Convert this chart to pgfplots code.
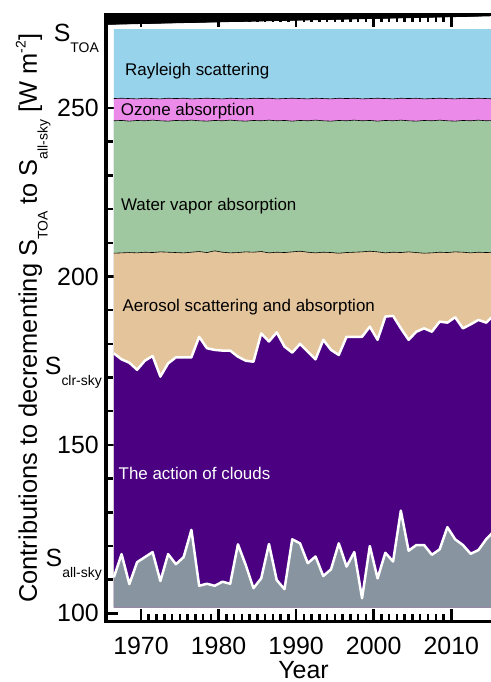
\documentclass[border=0pt]{standalone}
\usepackage{pgfplots}
\pgfplotsset{compat=1.18}
\usepackage{pgfplotstable}
\usepackage{fontspec}
\setmainfont{Liberation Sans}

\definecolor{cToa}{RGB}{152,211,236}
\definecolor{cOzone}{RGB}{236,138,234}
\definecolor{cWater}{RGB}{160,200,160}
\definecolor{cAero}{RGB}{228,196,155}
\definecolor{cCloud}{RGB}{75,0,130}
\definecolor{cAll}{RGB}{136,148,160}

\newcommand{\lo}[1]{\raisebox{-0.42em}{\fontsize{14}{14}\selectfont #1}}
\newcommand{\hi}[1]{\raisebox{0.45em}{\fontsize{14}{14}\selectfont #1}}

% S_all-sky (top of grey)
\pgfplotstableread{
x v
1966.5 110.7
1967.5 117.6
1968.5 108.7
1969.5 115.2
1970.5 116.7
1971.5 118.2
1972.5 109.6
1973.5 117.6
1974.5 114.6
1975.5 116.7
1976.5 124.8
1977.5 108.2
1978.5 108.8
1979.5 108.2
1980.5 109.4
1981.5 108.8
1982.5 120.5
1983.5 114.4
1984.5 107.5
1985.5 110.4
1986.5 120.6
1987.5 109.9
1988.5 107.2
1989.5 122.0
1990.5 120.8
1991.5 114.9
1992.5 116.9
1993.5 111.1
1994.5 113.1
1995.5 120.8
1996.5 113.9
1997.5 118.2
1998.5 104.5
1999.5 120.0
2000.5 110.4
2001.5 118.0
2002.5 115.4
2003.5 130.5
2004.5 118.6
2005.5 120.3
2006.5 120.3
2007.5 117.4
2008.5 119.0
2009.5 125.6
2010.5 122.0
2011.5 120.3
2012.5 117.7
2013.5 118.8
2014.5 122.0
2015.5 124.4
}\allsky

% S_clr-sky (top of purple)
\pgfplotstableread{
x v
1966.5 177.2
1967.5 175.4
1968.5 174.4
1969.5 172.3
1970.5 175.0
1971.5 176.4
1972.5 170.3
1973.5 174.2
1974.5 176.0
1975.5 176.0
1976.5 176.0
1977.5 182.1
1978.5 178.7
1979.5 178.2
1980.5 178.0
1981.5 178.0
1982.5 176.2
1983.5 175.0
1984.5 174.7
1985.5 183.1
1986.5 180.7
1987.5 183.4
1988.5 179.2
1989.5 177.4
1990.5 180.0
1991.5 177.7
1992.5 175.4
1993.5 181.2
1994.5 178.2
1995.5 176.7
1996.5 182.1
1997.5 182.1
1998.5 182.1
1999.5 185.1
2000.5 181.2
2001.5 188.1
2002.5 188.3
2003.5 184.6
2004.5 181.2
2005.5 183.6
2006.5 184.6
2007.5 183.6
2008.5 186.6
2009.5 186.3
2010.5 187.9
2011.5 184.6
2012.5 185.8
2013.5 187.1
2014.5 186.3
2015.5 188.5
}\clrsky

% bottom of water vapour, top of water vapour, top of ozone, TOA
\pgfplotstableread{
x wvb wvt o3 toa
1966.5 206.9 246.2 252.8 273.4
1967.5 207.0 246.3 252.9 273.4
1968.5 207.1 246.1 252.8 273.4
1969.5 207.0 246.3 252.7 273.4
1970.5 207.2 246.2 252.9 273.4
1971.5 207.1 246.4 252.8 273.4
1972.5 207.3 246.2 252.7 273.4
1973.5 207.2 246.1 252.9 273.4
1974.5 207.1 246.3 252.8 273.4
1975.5 207.0 246.2 252.9 273.4
1976.5 207.2 246.4 252.7 273.4
1977.5 207.4 246.2 252.8 273.4
1978.5 207.1 246.1 252.9 273.4
1979.5 207.6 246.3 252.8 273.4
1980.5 207.2 246.2 252.7 273.4
1981.5 207.0 246.4 252.9 273.4
1982.5 207.1 246.2 252.8 273.4
1983.5 207.3 246.1 252.7 273.4
1984.5 207.2 246.3 252.9 273.4
1985.5 207.4 246.2 252.8 273.4
1986.5 207.0 246.4 252.9 273.4
1987.5 207.2 246.2 252.7 273.4
1988.5 207.1 246.3 252.8 273.4
1989.5 207.3 246.1 252.9 273.4
1990.5 207.5 246.3 252.8 273.4
1991.5 207.2 246.2 252.7 273.4
1992.5 207.0 246.4 252.9 273.4
1993.5 207.2 246.2 252.8 273.4
1994.5 207.1 246.1 252.7 273.4
1995.5 206.9 246.3 252.9 273.4
1996.5 207.1 246.2 252.8 273.4
1997.5 207.2 246.4 252.9 273.4
1998.5 207.3 246.2 252.7 273.4
1999.5 207.5 246.3 252.8 273.4
2000.5 207.3 246.1 252.9 273.4
2001.5 207.0 246.3 252.8 273.4
2002.5 207.2 246.2 252.7 273.4
2003.5 207.1 246.4 252.9 273.4
2004.5 207.3 246.2 252.8 273.4
2005.5 207.1 246.1 252.9 273.4
2006.5 206.9 246.3 252.7 273.4
2007.5 207.0 246.2 252.8 273.4
2008.5 207.2 246.4 252.9 273.4
2009.5 207.1 246.2 252.8 273.4
2010.5 207.3 246.1 252.7 273.4
2011.5 207.2 246.3 252.9 273.4
2012.5 207.0 246.2 252.8 273.4
2013.5 207.2 246.4 252.9 273.4
2014.5 207.1 246.2 252.8 273.4
2015.5 207.2 246.3 252.7 273.4
}\upper

\begin{document}
\begin{tikzpicture}
\begin{axis}[
    width=388.7bp, height=606.5bp,
    scale only axis,
    xmin=1965.49, xmax=2015.6,
    ymin=97.6, ymax=277.6,
    xtick={1970,1980,...,2010},
    minor x tick num=9,
    ytick={100,150,200,250},
    minor y tick num=4,
    xtick pos=both,
    ytick pos=left,
    tick align=inside,
    major tick length=12.5bp,
    minor tick length=7.5bp,
    axis line style={line width=3bp},
    tick style={black, line width=2.5bp},
    /pgf/number format/assume math mode=true,
    /pgf/number format/1000 sep={},
    tick label style={font=\fontsize{25}{28}\selectfont, inner sep=0pt},
    yticklabel style={xshift=-7bp},
    xticklabel style={yshift=-15bp},
  ]
  \coordinate (sw) at (axis cs:1965.49,97.6);
  \coordinate (ne) at (axis cs:2015.12,277.6);
  \coordinate (yl) at (axis cs:1965.49,187.6);
  \coordinate (xl) at (axis cs:1990.95,97.6);
  \coordinate (pRay) at (axis cs:1967.94,259.5);
  \coordinate (pOz) at (axis cs:1967.38,247.7);
  \coordinate (pWv) at (axis cs:1967.4,219.7);
  \coordinate (pAe) at (axis cs:1967.6,189.6);
  \coordinate (pCl) at (axis cs:1967.1,139.8);
  \coordinate (sToa) at (axis cs:1965.49,269.6);
  \coordinate (sClr) at (axis cs:1965.49,170.8);
  \coordinate (sAll) at (axis cs:1965.49,113.8);

  % y ticks first, so the areas cover what reaches into them
  \pgfplotsinvokeforeach{110,120,130,140,160,170,180,190,210,220,230,240,260,270}{
    \draw[black, line width=2.5bp] (axis cs:1965.49,#1) -- ++(4bp,0);
  }
  \pgfplotsinvokeforeach{100,150,200,250}{
    \draw[black, line width=2.5bp] (axis cs:1965.49,#1) -- ++(7bp,0);
  }

  % layers painted top-down, each closed to the common floor at 101.8
  \addplot[fill=cToa, draw=none] table[x=x, y=toa] {\upper}
    -- (axis cs:2015.5,101.8) -- (axis cs:1966.5,101.8) -- cycle;
  \addplot[fill=cOzone, draw=none] table[x=x, y=o3] {\upper}
    -- (axis cs:2015.5,101.8) -- (axis cs:1966.5,101.8) -- cycle;
  \addplot[fill=cWater, draw=none] table[x=x, y=wvt] {\upper}
    -- (axis cs:2015.5,101.8) -- (axis cs:1966.5,101.8) -- cycle;
  \addplot[fill=cAero, draw=none] table[x=x, y=wvb] {\upper}
    -- (axis cs:2015.5,101.8) -- (axis cs:1966.5,101.8) -- cycle;
  \addplot[fill=cCloud, draw=none] table[x=x, y=v] {\clrsky}
    -- (axis cs:2015.5,101.8) -- (axis cs:1966.5,101.8) -- cycle;
  \addplot[fill=cAll, draw=none] table[x=x, y=v] {\allsky}
    -- (axis cs:2015.5,101.8) -- (axis cs:1966.5,101.8) -- cycle;

  \addplot[black, line width=0.6bp] table[x=x, y=wvb] {\upper};
  \addplot[black, line width=0.6bp] table[x=x, y=wvt] {\upper};
  \addplot[black, line width=0.6bp] table[x=x, y=o3] {\upper};
  \addplot[white, line width=2.5bp, line join=round] table[x=x, y=v] {\clrsky};
  \addplot[white, line width=2.5bp, line join=round] table[x=x, y=v] {\allsky};

  % x ticks, bottom and top
  \pgfplotsinvokeforeach{1966,1967,1968,1969,1971,1972,1973,1974,1975,1976,1977,1978,1979,
      1981,1982,1983,1984,1985,1986,1987,1988,1989,1991,1992,1993,1994,1995,1996,1997,1998,1999,
      2001,2002,2003,2004,2005,2006,2007,2008,2009,2011,2012,2013,2014,2015}{
    \draw[black, line width=2.5bp] (axis cs:#1,97.6) -- ++(0,7.5bp);
    \draw[black, line width=2.5bp] (axis cs:#1,277.6) -- ++(0,-7.5bp);
  }
  \pgfplotsinvokeforeach{1970,1980,1990,2000,2010}{
    \draw[black, line width=2.5bp] (axis cs:#1,97.6) -- ++(0,12.5bp);
    \draw[black, line width=2.5bp] (axis cs:#1,277.6) -- ++(0,-12.5bp);
  }
\end{axis}

\begin{scope}[every node/.style={inner sep=0pt, font=\fontsize{17}{20}\selectfont, anchor=base west}]
  \node at (pRay) {Rayleigh scattering};
  \node at (pOz) {Ozone absorption};
  \node at (pWv) {Water vapor absorption};
  \node at (pAe) {Aerosol scattering and absorption};
  \node[text=white] at (pCl) {The action of clouds};
\end{scope}
\begin{scope}[every node/.style={inner sep=0pt, font=\fontsize{25}{28}\selectfont, anchor=base east}]
  \node[xshift=-7bp] at (sToa) {S\lo{TOA}};
  \node[xshift=-4bp] at (sClr) {S\lo{clr-sky}};
  \node[xshift=-4bp] at (sAll) {S\lo{all-sky}};
\end{scope}
\node[inner sep=0pt, font=\fontsize{25.5}{28}\selectfont, rotate=90, anchor=base]
  at ([xshift=-69bp]yl)
  {Contributions to decrementing S\lo{TOA} to S\lo{all-sky} [W m\hi{-2}]};
\node[inner sep=0pt, font=\fontsize{25}{28}\selectfont, anchor=base]
  at ([yshift=-56.5bp]xl) {Year};

\pgfresetboundingbox
\useasboundingbox ([shift={(-106bp,-60.5bp)}]sw) rectangle ([shift={(0bp,15bp)}]ne);
\end{tikzpicture}
\end{document}
